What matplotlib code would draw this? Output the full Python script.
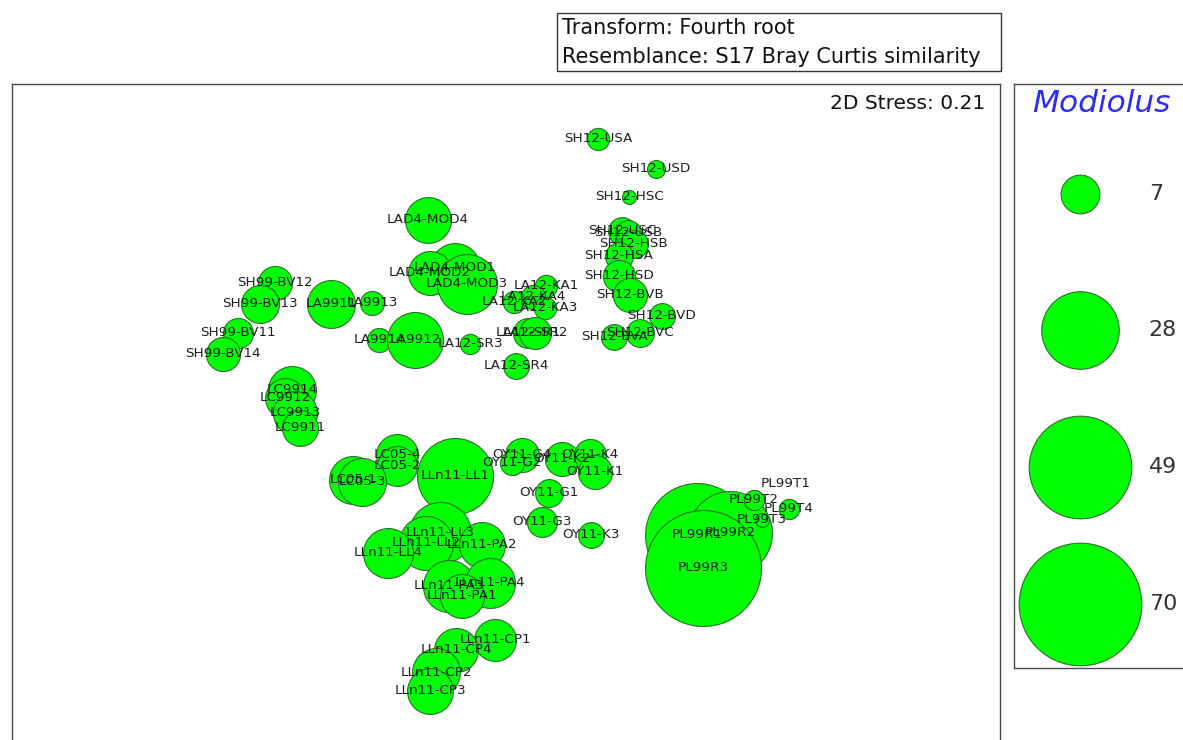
import numpy as np
import matplotlib
matplotlib.use("Agg")
import matplotlib.pyplot as plt
from matplotlib.patches import Rectangle

# nMDS ordination of samples, bubbles sized by Modiolus abundance
samples = [
    "SH12-USA", "SH12-USD", "SH12-HSC", "SH12-USC", "SH12-USB", "SH12-HSB",
    "SH12-HSA", "SH12-HSD", "SH12-BVB", "SH12-BVD", "SH12-BVC", "SH12-BVA",
    "LAD4-MOD4", "LAD4-MOD1", "LAD4-MOD2", "LAD4-MOD3",
    "LA12-KA1", "LA12-KA4", "LA12-KA2", "LA12-KA3",
    "LA12-SR1", "LA12-SR2", "LA12-SR3", "LA12-SR4",
    "LA9911", "LA9913", "LA9914", "LA9912",
    "SH99-BV12", "SH99-BV13", "SH99-BV11", "SH99-BV14",
    "LC9914", "LC9912", "LC9913", "LC9911",
    "LC05-4", "LC05-2", "LC05-1", "LC05-3",
    "LLn11-LL1",
    "OY11-G4", "OY11-G2", "OY11-K2", "OY11-K4", "OY11-K1",
    "OY11-G1", "OY11-G3", "OY11-K3",
    "LLn11-LL3", "LLn11-LL2", "LLn11-PA2", "LLn11-LL4",
    "LLn11-PA3", "LLn11-PA4", "LLn11-PA1",
    "LLn11-CP1", "LLn11-CP4", "LLn11-CP2", "LLn11-CP3",
    "PL99R1", "PL99R2", "PL99R3", "PL99T1", "PL99T2", "PL99T3", "PL99T4",
]
mds1 = [
    0.392, 0.624, 0.516, 0.488, 0.512, 0.536,
    0.476, 0.476, 0.520, 0.648, 0.560, 0.456,
    -0.288, -0.180, -0.280, -0.132,
    0.184, 0.132, 0.056, 0.180,
    0.112, 0.140, -0.120, 0.064,
    -0.676, -0.512, -0.484, -0.340,
    -0.900, -0.960, -1.048, -1.108,
    -0.832, -0.860, -0.820, -0.800,
    -0.412, -0.412, -0.588, -0.552,
    -0.180,
    0.088, 0.048, 0.248, 0.360, 0.380,
    0.196, 0.168, 0.364,
    -0.240, -0.296, -0.072, -0.448,
    -0.204, -0.040, -0.152,
    -0.020, -0.176, -0.256, -0.280,
    0.788, 0.920, 0.812, 1.144, 1.016, 1.048, 1.156,
]
mds2 = [
    1.044, 0.924, 0.812, 0.676, 0.668, 0.624,
    0.576, 0.496, 0.420, 0.336, 0.268, 0.252,
    0.720, 0.528, 0.508, 0.464,
    0.456, 0.412, 0.392, 0.368,
    0.268, 0.268, 0.224, 0.136,
    0.384, 0.388, 0.240, 0.240,
    0.468, 0.384, 0.268, 0.184,
    0.040, 0.008, -0.052, -0.112,
    -0.220, -0.264, -0.320, -0.328,
    -0.304,
    -0.220, -0.252, -0.236, -0.220, -0.288,
    -0.372, -0.488, -0.540,
    -0.532, -0.572, -0.580, -0.612,
    -0.744, -0.732, -0.784,
    -0.960, -1.000, -1.088, -1.164,
    -0.540, -0.532, -0.672, -0.336, -0.400, -0.480, -0.436,
]
modiolus = [
    2.3, 1.5, 0.9, 3.6, 3.1, 3.6,
    3.6, 4.8, 5.4, 3.1, 3.6, 3.1,
    9.8, 11.6, 9.0, 16.7,
    2.3, 2.7, 2.3, 2.3,
    4.2, 4.8, 1.9, 3.1,
    10.7, 2.7, 2.7, 14.6,
    5.4, 6.7, 4.2, 5.4,
    10.7, 7.4, 9.0, 6.0,
    8.2, 7.4, 10.7, 10.7,
    26.9,
    5.4, 2.7, 5.4, 4.8, 5.4,
    3.6, 4.2, 3.1,
    17.9, 13.6, 9.8, 11.6,
    12.6, 11.6, 9.0,
    8.2, 9.0, 10.7, 9.8,
    50.3, 32.8, 62.6, 0.0, 1.9, 0.9, 1.9,
]
legend_values = [7, 28, 49, 70]

W, H, DPI = 1183, 740, 100
# marker area (pt^2) per unit of abundance
AREA_PER_UNIT = 111.4

GREEN = "#00ff00"
EDGE = "#2e6e2e"
FRAME = "#4a4a4a"

fig = plt.figure(figsize=(W / DPI, H / DPI), dpi=DPI)
fig.patch.set_facecolor("white")

# main ordination panel
ax = fig.add_axes([12 / W, 1 - 760 / H, 988 / W, 676 / H])
ax.set_xlim(-1.952, 2.0)
ax.set_ylim(-1.44, 1.264)
ax.set_xticks([])
ax.set_yticks([])
for sp in ax.spines.values():
    sp.set_color(FRAME)
    sp.set_linewidth(1.0)

sizes = np.array(modiolus) * AREA_PER_UNIT
for x, y, s in zip(mds1, mds2, sizes):
    if s > 0:
        ax.scatter([x], [y], s=s, c=GREEN, edgecolors=EDGE,
                   linewidths=0.8, zorder=2)
for name, x, y in zip(samples, mds1, mds2):
    ax.text(x, y, name, ha="center", va="center", fontsize=9.7,
            color="#1e1e1e", zorder=3, family="DejaVu Sans")

ax.text(0.985, 0.971, "2D Stress: 0.21", transform=ax.transAxes,
        ha="right", va="center", fontsize=14.5, color="#111111")

# transform / resemblance box
fig.add_artist(Rectangle((557 / W, 1 - 71 / H), 444 / W, 58 / H,
                         transform=fig.transFigure, fill=False,
                         edgecolor="#333333", linewidth=1.0))
fig.text(562 / W, 1 - 28 / H, "Transform: Fourth root", ha="left",
         va="center", fontsize=15, color="#111111")
fig.text(562 / W, 1 - 57 / H, "Resemblance: S17 Bray Curtis similarity",
         ha="left", va="center", fontsize=15, color="#111111")

# bubble size key
lax = fig.add_axes([1014 / W, 1 - 668 / H, 186 / W, 584 / H])
lax.set_xlim(0, 1)
lax.set_ylim(0, 1)
lax.set_xticks([])
lax.set_yticks([])
for sp in lax.spines.values():
    sp.set_color(FRAME)
    sp.set_linewidth(1.0)
lax.text(0.097, 0.967, "Modiolus", ha="left", va="center", fontsize=22.5,
         style="italic", color="#2a2aff", transform=lax.transAxes)
key_y = np.linspace(0.812, 0.110, len(legend_values))
for v, yy in zip(legend_values, key_y):
    lax.scatter([0.355], [yy], s=v * AREA_PER_UNIT, c=GREEN,
                edgecolors=EDGE, linewidths=0.8, clip_on=False)
    lax.text(0.725, yy, str(v), ha="left", va="center", fontsize=16,
             color="#333333")

fig.savefig("out.png", dpi=DPI)
